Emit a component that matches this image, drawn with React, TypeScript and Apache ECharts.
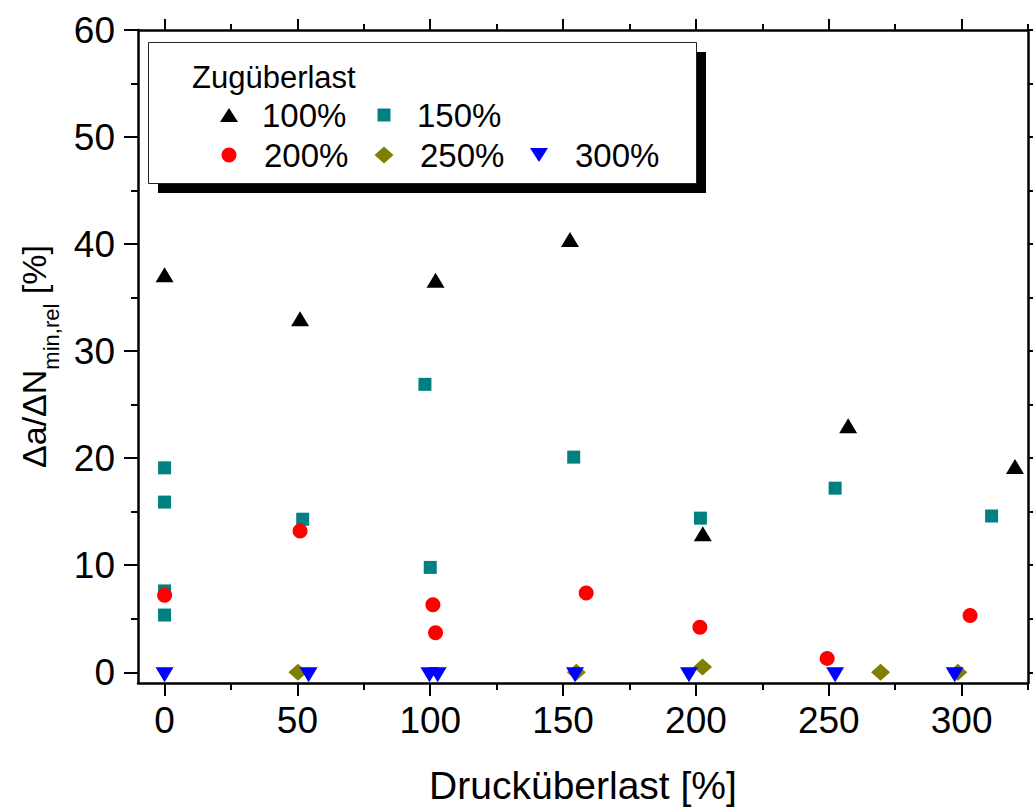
import React, { useEffect, useRef } from "react";
import * as echarts from "echarts";

const FONT = "Arial, Liberation Sans, Helvetica, sans-serif";

// Druck- und Zugüberlast in %; values are [Drucküberlast, Δa/ΔN_min,rel]
const seriesNames = ["100%", "150%", "200%", "250%", "300%"];
const seriesColors = ["#000000", "#008080", "#FF0000", "#808000", "#0000FF"];

const zug100: number[][] = [
  [0, 36.9], [51, 32.8], [102, 36.4], [152.6, 40.2], [202.6, 12.7], [257.3, 22.8], [320.1, 19.0],
];
const zug150: number[][] = [
  [0, 19.1], [0, 15.9], [0, 7.6], [0, 5.35], [52, 14.3], [98, 26.9], [100, 9.8],
  [154, 20.1], [201.7, 14.4], [252.4, 17.2], [311.3, 14.6],
];
const zug200: number[][] = [
  [0, 7.2], [51, 13.2], [101, 6.3], [102, 3.7], [158.7, 7.4], [201.5, 4.2], [249.4, 1.3], [303.2, 5.3],
];
const zug250: number[][] = [
  [50.2, 0], [155, 0], [202.5, 0.5], [269.5, 0], [298.6, 0],
];
const zug300: number[][] = [
  [0, 0], [54.2, 0], [99.7, 0], [102.8, 0], [154.5, 0], [197.4, 0], [252.4, 0], [297.4, 0],
];

const xMajor = [0, 50, 100, 150, 200, 250, 300];
const xMinor = [25, 75, 125, 175, 225, 275, 325];
const yMajor = [0, 10, 20, 30, 40, 50, 60];
const yMinor = [5, 15, 25, 35, 45, 55];

const X_MIN = -10;
const X_MAX = 325;
const Y_MIN = -1;
const Y_MAX = 60;

const AXIS_W = 2.5;
const TICK_W = 2;

function xAxisDef(position: "top" | "bottom", ticks: number[], len: number, showLine: boolean, extra: any = {}) {
  return {
    type: "value",
    position,
    min: X_MIN,
    max: X_MAX,
    axisLine: { show: showLine, onZero: false, lineStyle: { color: "#000", width: AXIS_W } },
    axisTick: { show: true, inside: false, length: len, customValues: ticks, lineStyle: { color: "#000", width: TICK_W } },
    axisLabel: { show: false },
    splitLine: { show: false },
    ...extra,
  };
}

function yAxisDef(position: "left" | "right", ticks: number[], len: number, showLine: boolean, extra: any = {}) {
  return {
    type: "value",
    position,
    min: Y_MIN,
    max: Y_MAX,
    axisLine: { show: showLine, onZero: false, lineStyle: { color: "#000", width: AXIS_W } },
    axisTick: { show: true, inside: false, length: len, customValues: ticks, lineStyle: { color: "#000", width: TICK_W } },
    axisLabel: { show: false },
    splitLine: { show: false },
    ...extra,
  };
}

export default function App() {
  const ref = useRef<HTMLDivElement>(null);

  useEffect(() => {
    if (!ref.current) return;
    const chart = echarts.init(ref.current, null, { renderer: "svg" });

    const symbolDefs = [
      { symbol: "triangle", symbolSize: [18, 15], symbolRotate: 0, symbolOffset: [0, -2.5] },
      { symbol: "rect", symbolSize: [13, 13], symbolRotate: 0, symbolOffset: [0, 0] },
      { symbol: "circle", symbolSize: 15, symbolRotate: 0, symbolOffset: [0, 0] },
      { symbol: "diamond", symbolSize: [19, 17], symbolRotate: 0, symbolOffset: [0, 0] },
      { symbol: "triangle", symbolSize: [18, 15], symbolRotate: 180, symbolOffset: [0, 2.5] },
    ];
    const allData = [zug100, zug150, zug200, zug250, zug300];

    const series = allData.map((d, i) => ({
      name: seriesNames[i],
      type: "scatter",
      xAxisIndex: 0,
      yAxisIndex: 0,
      data: d,
      clip: false,
      ...symbolDefs[i],
      itemStyle: { color: seriesColors[i], opacity: 1 },
      z: 5 + i,
    }));

    // legend box drawn as graphic elements
    const labelFont = { fontFamily: FONT, fontSize: 33 };
    const rowY = [115, 155];
    const legendItems = [
      { sx: 229, sy: rowY[0], tx: 262, i: 0 },
      { sx: 384, sy: rowY[0], tx: 417, i: 1 },
      { sx: 229, sy: rowY[1], tx: 264, i: 2 },
      { sx: 384, sy: rowY[1], tx: 420, i: 3 },
      { sx: 539, sy: rowY[1], tx: 575, i: 4 },
    ];
    const marker = (i: number, cx: number, cy: number) => {
      const c = seriesColors[i];
      if (i === 0)
        return { type: "polygon", shape: { points: [[cx - 9, cy + 7], [cx + 9, cy + 7], [cx, cy - 7]] }, style: { fill: c } };
      if (i === 1)
        return { type: "rect", shape: { x: cx - 6.5, y: cy - 6.5, width: 13, height: 13 }, style: { fill: c } };
      if (i === 2) return { type: "circle", shape: { cx, cy, r: 7.5 }, style: { fill: c } };
      if (i === 3)
        return { type: "polygon", shape: { points: [[cx - 9.5, cy], [cx, cy - 8.5], [cx + 9.5, cy], [cx, cy + 8.5]] }, style: { fill: c } };
      return { type: "polygon", shape: { points: [[cx - 9, cy - 7], [cx + 9, cy - 7], [cx, cy + 7]] }, style: { fill: c } };
    };

    const graphic: any[] = [
      { type: "rect", z: 100, shape: { x: 158, y: 52, width: 548, height: 141 }, style: { fill: "#000" } },
      { type: "rect", z: 101, shape: { x: 148.5, y: 42.5, width: 548, height: 141 }, style: { fill: "#fff", stroke: "#222", lineWidth: 1 } },
      {
        type: "text", z: 102, x: 192, y: 77,
        style: { text: "Zugüberlast", fontFamily: FONT, fontSize: 31, fill: "#000", textAlign: "left", textVerticalAlign: "middle", align: "left", verticalAlign: "middle" },
      },
    ];
    legendItems.forEach((it) => {
      graphic.push({ ...marker(it.i, it.sx, it.sy), z: 102 });
      graphic.push({
        type: "text", z: 102, x: it.tx, y: it.sy,
        style: { text: seriesNames[it.i], ...labelFont, fill: "#000", textAlign: "left", textVerticalAlign: "middle", align: "left", verticalAlign: "middle" },
      });
    });

    const option: any = {
      animation: false,
      backgroundColor: "#fff",
      textStyle: { fontFamily: FONT },
      grid: { left: 138, right: 5, top: 30, bottom: 124, containLabel: false, outerBoundsMode: "none" },
      xAxis: [
        xAxisDef("bottom", xMajor, 13, true, {
          axisLabel: { show: true, customValues: xMajor, margin: 19, color: "#000", fontSize: 37, fontFamily: FONT },
          name: "Drucküberlast [%]",
          nameLocation: "middle",
          nameGap: 84,
          nameTextStyle: { color: "#000", fontSize: 39, lineHeight: 36, fontFamily: FONT },
        }),
        xAxisDef("bottom", xMinor, 7, false),
        xAxisDef("top", xMajor, 11, true),
        xAxisDef("top", xMinor, 6, false),
      ],
      yAxis: [
        yAxisDef("left", yMajor, 14, true, {
          axisLabel: { show: true, customValues: yMajor, margin: 23, color: "#000", fontSize: 37, fontFamily: FONT },
          name: "{m|Δa/ΔN}{s|min,rel}{m| [%]}",
          nameLocation: "middle",
          nameRotate: 90,
          nameGap: 79,
          nameTextStyle: {
            color: "#000",
            fontFamily: FONT,
            rich: {
              m: { fontSize: 34, lineHeight: 34, verticalAlign: "top", fontFamily: FONT, color: "#000" },
              s: { fontSize: 22, lineHeight: 22, verticalAlign: "top", padding: [24, 0, 0, 0], fontFamily: FONT, color: "#000" },
            },
          },
        }),
        yAxisDef("left", yMinor, 7, false),
        yAxisDef("right", yMajor, 13, true),
        yAxisDef("right", yMinor, 7, false),
      ],
      series,
      graphic,
    };

    chart.setOption(option);
    return () => chart.dispose();
  }, []);

  return (
    <div
      ref={ref}
      style={{ position: "absolute", left: 0, top: 0, width: 1033, height: 807, background: "#fff" }}
    />
  );
}
